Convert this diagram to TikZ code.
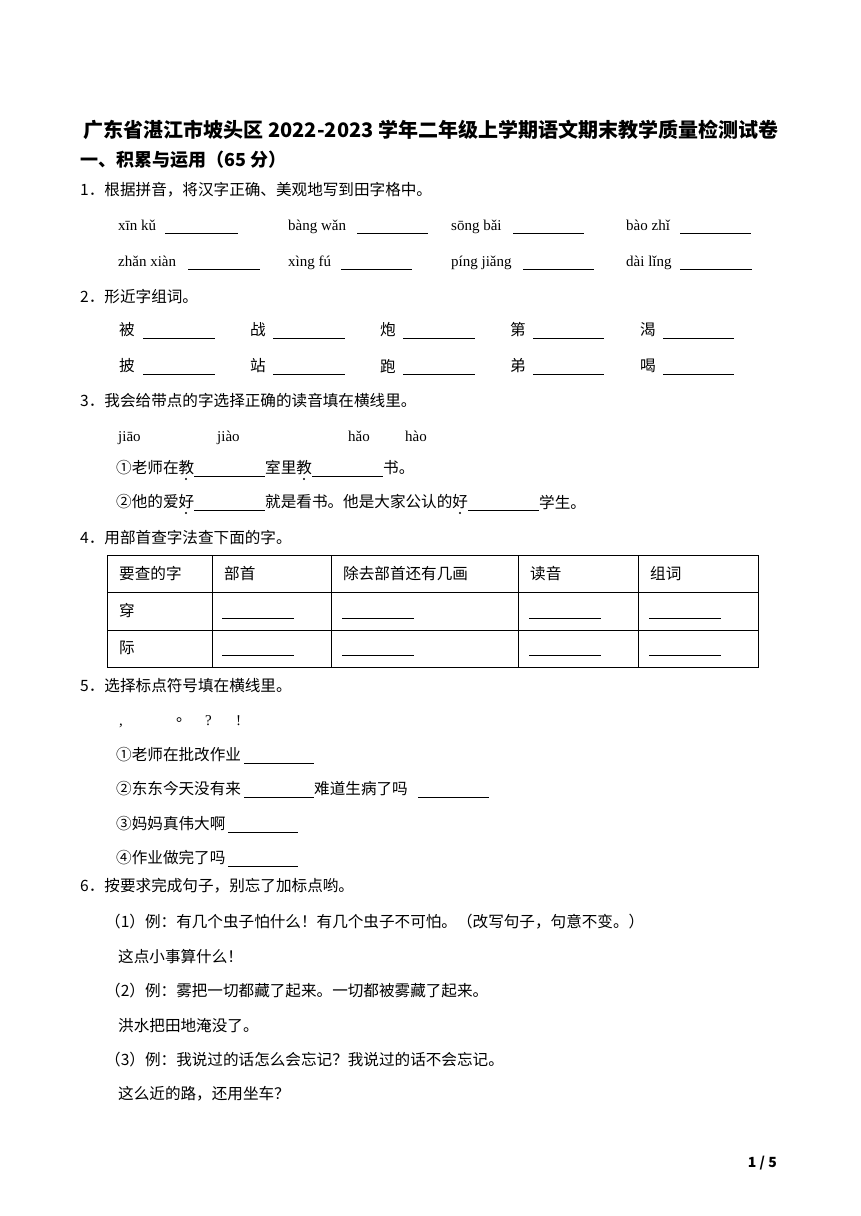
\documentclass[tikz,border=0pt]{standalone}
\usepackage{fontspec}
\newfontfamily\cjk{Noto Sans CJK SC}
\newfontfamily\pinyin{Liberation Serif}
\usetikzlibrary{positioning}

\tikzset{
  txt/.style={anchor=west,inner sep=0pt,font=\cjk\fontsize{15.6}{18}\selectfont},
  py/.style={anchor=base west,inner sep=0pt,font=\pinyin\fontsize{15}{18}\selectfont},
  headtxt/.style={anchor=west,inner sep=0pt,font=\cjk\bfseries\fontsize{18}{22}\selectfont},
  blank/.style={line width=0.8pt},
  tabline/.style={line width=1pt},
  emdot/.style={fill=black}
}
% blank line: from x1 to x2 at height y
\newcommand{\fillin}[3]{\draw[blank] (#1,#3) -- (#2,#3);}
\newcommand{\markdot}[2]{\fill[emdot] (#1,#2) circle (1.1);}

\begin{document}
\begin{tikzpicture}[x=1pt,y=-1pt]
	\useasboundingbox (0,0) rectangle (860,1216);
	\fill[white] (0,0) rectangle (860,1216);

	\node[inner sep=0pt,font=\cjk\bfseries\fontsize{20}{24}\selectfont] (title) at (431,130)
	  {广东省湛江市坡头区 2022-2023 学年二年级上学期语文期末教学质量检测试卷};
	\node[headtxt] (part1) at (80,160) {一、积累与运用（65 分）};

	% question 1
	\node[txt] (q1) at (80,190) {1．根据拼音，将汉字正确、美观地写到田字格中。};
	\node[py] (p11) at (118,230) {xīn kǔ};
	\node[py] (p12) at (288,230) {bàng wǎn};
	\node[py] (p13) at (451,230) {sōng bǎi};
	\node[py] (p14) at (626,230) {bào zhǐ};
	\fillin{165}{238}{233} \fillin{357}{428}{233} \fillin{513}{584}{233} \fillin{680}{751}{233}
	\node[py] (p21) at (118,266) {zhǎn xiàn};
	\node[py] (p22) at (288,266) {xìng fú};
	\node[py] (p23) at (451,266) {píng jiǎng};
	\node[py] (p24) at (626,266) {dài lǐng};
	\fillin{188}{260}{269} \fillin{341}{412}{269} \fillin{523}{594}{269} \fillin{680}{752}{269}

	% question 2
	\node[txt] (q2) at (80,297) {2．形近字组词。};
	\node[txt] (c11) at (119,330) {被};
	\node[txt] (c12) at (250,330) {战};
	\node[txt] (c13) at (380,330) {炮};
	\node[txt] (c14) at (510,330) {第};
	\node[txt] (c15) at (640,330) {渴};
	\fillin{143}{215}{338} \fillin{273}{345}{338} \fillin{403}{475}{338} \fillin{533}{604}{338} \fillin{663}{734}{338}
	\node[txt] (c21) at (119,366) {披};
	\node[txt] (c22) at (250,366) {站};
	\node[txt] (c23) at (380,366) {跑};
	\node[txt] (c24) at (510,366) {弟};
	\node[txt] (c25) at (640,366) {喝};
	\fillin{143}{215}{374} \fillin{273}{345}{374} \fillin{403}{475}{374} \fillin{533}{604}{374} \fillin{663}{734}{374}

	% question 3
	\node[txt] (q3) at (80,401) {3．我会给带点的字选择正确的读音填在横线里。};
	\node[py] (r1) at (118,441) {jiāo};
	\node[py] (r2) at (217,441) {jiào};
	\node[py] (r3) at (348,441) {hǎo};
	\node[py] (r4) at (405,441) {hào};
	\node[txt] (s1a) at (116,468) {①老师在教};
	\fillin{194}{265}{476}
	\node[txt] (s1b) at (265,468) {室里教};
	\fillin{312}{383}{476}
	\node[txt] (s1c) at (383,468) {书。};
	\node[txt] (s2a) at (116,502) {②他的爱好};
	\fillin{194}{265}{510}
	\node[txt] (s2b) at (265,502) {就是看书。他是大家公认的好};
	\fillin{468}{539}{510}
	\node[txt] (s2c) at (539,502) {学生。};
	\markdot{186}{479} \markdot{304}{479} \markdot{186}{513} \markdot{460}{513}

	% question 4
	\node[txt] (q4) at (80,538) {4．用部首查字法查下面的字。};
	\draw[tabline] (107,555) rectangle (758,667);
	\draw[tabline] (107,592) -- (758,592);
	\draw[tabline] (107,630) -- (758,630);
	\draw[tabline] (212,555) -- (212,667);
	\draw[tabline] (331,555) -- (331,667);
	\draw[tabline] (518,555) -- (518,667);
	\draw[tabline] (638,555) -- (638,667);
	\node[txt] (h1) at (119,574) {要查的字};
	\node[txt] (h2) at (224,574) {部首};
	\node[txt] (h3) at (343,574) {除去部首还有几画};
	\node[txt] (h4) at (530,574) {读音};
	\node[txt] (h5) at (650,574) {组词};
	\node[txt] (w1) at (119,611) {穿};
	\node[txt] (w2) at (119,648) {际};
	\fillin{222}{294}{618} \fillin{342}{414}{618} \fillin{529}{601}{618} \fillin{649}{721}{618}
	\fillin{222}{294}{655} \fillin{342}{414}{655} \fillin{529}{601}{655} \fillin{649}{721}{655}

	% question 5
	\node[txt] (q5) at (80,686) {5．选择标点符号填在横线里。};
	\node[py] (m1) at (119,725) {,};
	\node[txt] (m2) at (176,720) {。};
	\node[py] (m3) at (205,725) {?};
	\node[py] (m4) at (236,725) {!};
	\node[txt] (t1) at (116,755) {①老师在批改作业};
	\fillin{244}{314}{763}
	\node[txt] (t2a) at (116,789) {②东东今天没有来};
	\fillin{244}{314}{797}
	\node[txt] (t2b) at (314,789) {难道生病了吗};
	\fillin{418}{489}{797}
	\node[txt] (t3) at (116,824) {③妈妈真伟大啊};
	\fillin{228}{298}{832}
	\node[txt] (t4) at (116,858) {④作业做完了吗};
	\fillin{228}{298}{866}

	% question 6
	\node[txt] (q6) at (80,886) {6．按要求完成句子，别忘了加标点哟。};
	\node[txt] (e1) at (105,922) {（1）例：有几个虫子怕什么！有几个虫子不可怕。（改写句子，句意不变。）};
	\node[txt] (a1) at (118,957) {这点小事算什么！};
	\node[txt] (e2) at (105,991) {（2）例：雾把一切都藏了起来。一切都被雾藏了起来。};
	\node[txt] (a2) at (118,1026) {洪水把田地淹没了。};
	\node[txt] (e3) at (105,1060) {（3）例：我说过的话怎么会忘记？我说过的话不会忘记。};
	\node[txt] (a3) at (118,1094) {这么近的路，还用坐车？};

	\node[anchor=east,inner sep=0pt,font=\cjk\bfseries\fontsize{14}{16}\selectfont] (pg) at (777,1163) {1 / 5};
\end{tikzpicture}
\end{document}
